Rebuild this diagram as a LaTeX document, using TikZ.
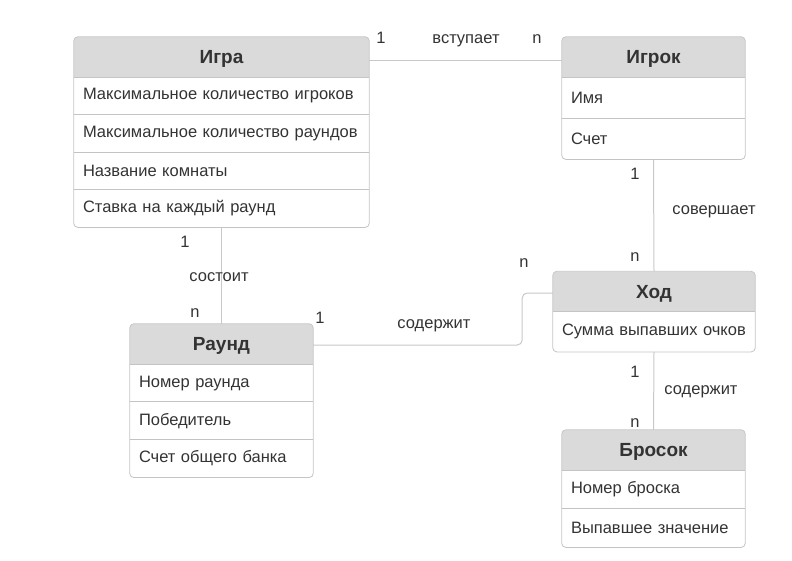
\documentclass[tikz,border=0pt]{standalone}
\usepackage{fontspec}
\setmainfont{Liberation Sans}
\usetikzlibrary{calc, backgrounds}

\definecolor{framegray}{HTML}{C4C4C4}
\definecolor{headgray}{HTML}{DADADA}
\definecolor{linkgray}{HTML}{C8C8C8}
\definecolor{textgray}{HTML}{333333}

\tikzset{
  head/.style={fill=headgray, rounded corners=4pt, minimum height=40pt,
    inner sep=0pt, text height=13.5pt, text depth=0pt, text=textgray,
    font=\fontsize{19}{21}\selectfont\bfseries},
  attr/.style={inner xsep=9pt, inner ysep=0pt, align=left, text=textgray,
    font=\fontsize{16.5}{19}\selectfont},
  frame/.style={draw=framegray, rounded corners=4pt, line width=0.8pt},
  sep/.style={draw=framegray, line width=0.8pt},
  link/.style={draw=linkgray, line width=1pt},
  card/.style={inner sep=0pt, text=textgray, font=\fontsize{16.5}{19}\selectfont},
}

\begin{document}
\begin{tikzpicture}[x=1pt, y=-1pt]
  \useasboundingbox (0,0) rectangle (792,560);
  % --- Игра ---
  \node[head, minimum width=295pt] (igra) at (221.5,57) {Игра};
  \foreach \txt [count=\i] in {Максимальное количество игроков,
      Максимальное количество раундов, Название комнаты,
      Ставка на каждый раунд} {
    \node[attr, text width=277pt, minimum height=37.5pt]
      (igra-\i) at ($(igra.south)+(0,37.5*\i-18.75)$) {\txt};
    \draw[sep] (igra-\i.north west) -- (igra-\i.north east);
  }
  \draw[frame] (igra.north west) rectangle (igra-4.south east);
  % --- Игрок ---
  \node[head, minimum width=183pt] (igrok) at (653.5,57) {Игрок};
  \foreach \txt [count=\i] in {Имя, Счет} {
    \node[attr, text width=165pt, minimum height=41pt]
      (igrok-\i) at ($(igrok.south)+(0,41*\i-20.5)$) {\txt};
    \draw[sep] (igrok-\i.north west) -- (igrok-\i.north east);
  }
  \draw[frame] (igrok.north west) rectangle (igrok-2.south east);
  % --- Раунд ---
  \node[head, minimum width=183pt] (raund) at (221.5,344) {Раунд};
  \foreach \txt [count=\i] in {Номер раунда, Победитель, Счет общего банка} {
    \node[attr, text width=165pt, minimum height=37.7pt]
      (raund-\i) at ($(raund.south)+(0,37.7*\i-18.85)$) {\txt};
    \draw[sep] (raund-\i.north west) -- (raund-\i.north east);
  }
  \draw[frame] (raund.north west) rectangle (raund-3.south east);
  % --- Ход ---
  \node[head, minimum width=202pt] (hod) at (654,291.5) {Ход};
  \node[attr, text width=184pt, minimum height=40pt]
    (hod-1) at ($(hod.south)+(0,20)$) {Сумма выпавших очков};
  \draw[sep] (hod-1.north west) -- (hod-1.north east);
  \draw[frame] (hod.north west) rectangle (hod-1.south east);
  % --- Бросок ---
  \node[head, minimum width=183pt] (brosok) at (653.5,450) {Бросок};
  \foreach \txt [count=\i] in {Номер броска, Выпавшее значение} {
    \node[attr, text width=165pt, minimum height=38.5pt]
      (brosok-\i) at ($(brosok.south)+(0,38.5*\i-19.25)$) {\txt};
    \draw[sep] (brosok-\i.north west) -- (brosok-\i.north east);
  }
  \draw[frame] (brosok.north west) rectangle (brosok-2.south east);
  % square off the lower half of every header
  \begin{scope}[on background layer]
    \foreach \e in {igra, igrok, raund, hod, brosok}
      \fill[headgray] (\e.west) rectangle (\e.south east);
  \end{scope}
  % --- Связи ---
  \draw[link] ([yshift=-3pt]igra.east) -- ([yshift=-3pt]igrok.west);
  \node[card] (vst-1) at (381,38) {1};
  \node[card] (vst) at (466,41) {вступает};
  \node[card] (vst-n) at (537,39) {n};
  \draw[link] (igra-4.south) -- (raund.north);
  \node[card] (sost-1) at (185,242) {1};
  \node[card] (sost) at (219,277) {состоит};
  \node[card] (sost-n) at (195,313) {n};
  \draw[link] (igrok-2.south) -- (hod.north);
  \node[card] (sov-1) at (635,174) {1};
  \node[card] (sov) at (714,212) {совершает};
  \node[card] (sov-n) at (635,257) {n};
  \draw[link, rounded corners=5pt] ([yshift=-1pt]raund.east) -- ++(209,0)
    |- ([yshift=-1.5pt]hod.west);
  \node[card] (sod-1) at (320,318) {1};
  \node[card] (sod) at (434,326) {содержит};
  \node[card] (sod-n) at (524,263) {n};
  \draw[link] (hod-1.south) -- (brosok.north);
  \node[card] (sodb-1) at (635,372) {1};
  \node[card] (sodb) at (701,392) {содержит};
  \node[card] (sodb-n) at (635,423) {n};
\end{tikzpicture}
\end{document}
